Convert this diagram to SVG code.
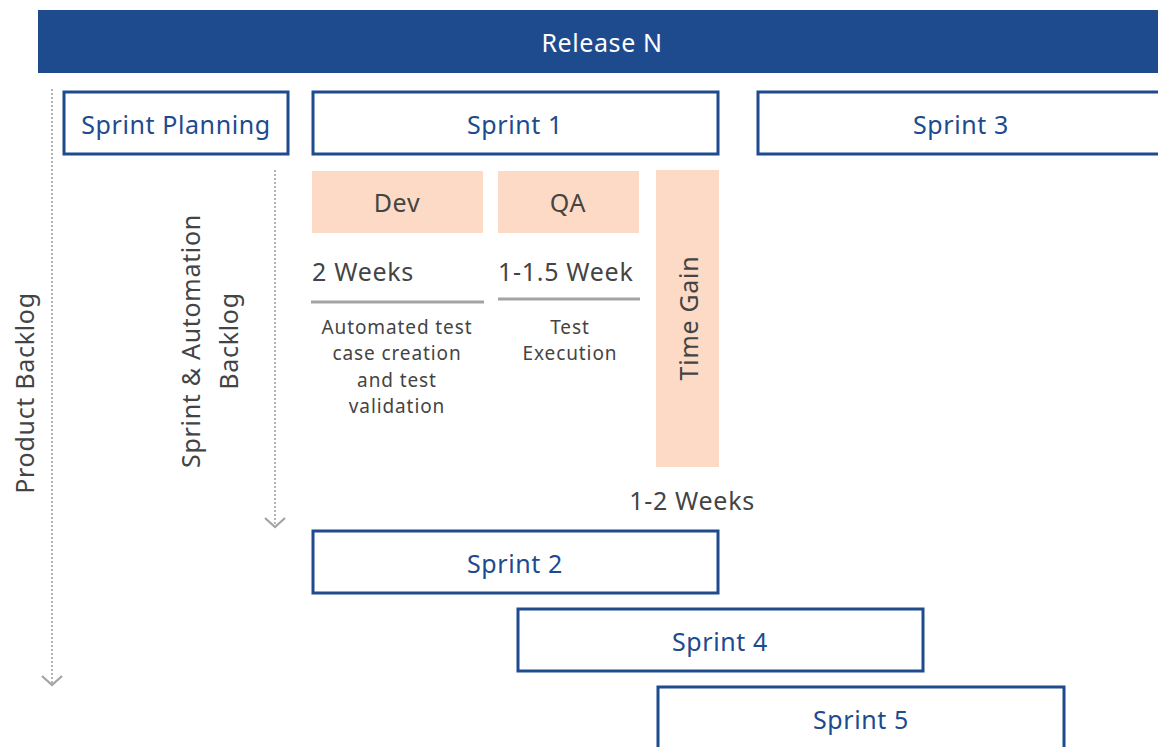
<svg xmlns="http://www.w3.org/2000/svg" width="1158" height="747" viewBox="0 0 1158 747">
<style>
.box{fill:#fff;stroke:#1e4a8e;stroke-width:3}
.peach{fill:#fddac5}
.blue{font-family:"Noto Sans","Liberation Sans",sans-serif;font-size:25px;letter-spacing:0.6px;fill:#1e4a8e;text-anchor:middle;dominant-baseline:central}
.gray{font-family:"Noto Sans","Liberation Sans",sans-serif;font-size:25px;letter-spacing:0.7px;fill:#444;dominant-baseline:central}
.small{font-family:"Noto Sans","Liberation Sans",sans-serif;font-size:19px;letter-spacing:0.9px;fill:#444;text-anchor:middle}
.dot{stroke:#a3a3a6;stroke-width:2.2;stroke-dasharray:0 4;stroke-linecap:round;fill:none}
.chev{fill:none;stroke:#a3a3a6;stroke-width:2.2}
.rule{stroke:#a3a3a6;stroke-width:3}
</style>
<g id="release">
<rect x="38" y="10" width="1120" height="63" fill="#1e4a8e"/>
<text x="602" y="42" class="blue" style="fill:#fff">Release N</text>
</g>
<g id="connectors">
<line class="dot" x1="52" y1="90" x2="52" y2="683"/>
<path class="chev" d="M42,676 L52,685 L62,676"/>
<line class="dot" x1="275" y1="171" x2="275" y2="525"/>
<path class="chev" d="M265,518 L275,527 L285,518"/>
</g>
<g id="product-backlog">
<text transform="translate(24,393) rotate(-90)" class="gray" style="text-anchor:middle">Product Backlog</text>
</g>
<g id="sprint-automation-backlog">
<text transform="translate(190,341) rotate(-90)" class="gray" style="text-anchor:middle">Sprint &amp; Automation</text>
<text transform="translate(228,341) rotate(-90)" class="gray" style="text-anchor:middle">Backlog</text>
</g>
<g id="sprint-planning">
<rect class="box" x="64" y="92" width="224" height="62"/>
<text x="176" y="124" class="blue">Sprint Planning</text>
</g>
<g id="sprint1">
<rect class="box" x="313" y="92" width="405" height="62"/>
<text x="515" y="124" class="blue">Sprint 1</text>
</g>
<g id="sprint3">
<rect class="box" x="758" y="92" width="410" height="62"/>
<text x="961" y="124" class="blue">Sprint 3</text>
</g>
<g id="dev">
<rect class="peach" x="312" y="171" width="171" height="62"/>
<text x="397" y="202" class="gray" style="text-anchor:middle">Dev</text>
<text x="312" y="271" class="gray">2 Weeks</text>
<line class="rule" x1="311" y1="302" x2="484" y2="302"/>
<text class="small"><tspan x="397" y="334">Automated test</tspan><tspan x="397" y="360">case creation</tspan><tspan x="397" y="387">and test</tspan><tspan x="397" y="413">validation</tspan></text>
</g>
<g id="qa">
<rect class="peach" x="498" y="171" width="141" height="62"/>
<text x="568" y="202" class="gray" style="text-anchor:middle">QA</text>
<text x="498" y="271" class="gray">1-1.5 Week</text>
<line class="rule" x1="498" y1="299" x2="640" y2="299"/>
<text class="small"><tspan x="570" y="334">Test</tspan><tspan x="570" y="360">Execution</tspan></text>
</g>
<g id="time-gain">
<rect class="peach" x="656" y="170" width="63" height="297"/>
<text transform="translate(688,318) rotate(-90)" class="gray" style="text-anchor:middle">Time Gain</text>
<text x="692" y="500" class="gray" style="text-anchor:middle">1-2 Weeks</text>
</g>
<g id="sprint2">
<rect class="box" x="313" y="531" width="405" height="62"/>
<text x="515" y="563" class="blue">Sprint 2</text>
</g>
<g id="sprint4">
<rect class="box" x="518" y="609" width="405" height="62"/>
<text x="720" y="641" class="blue">Sprint 4</text>
</g>
<g id="sprint5">
<rect class="box" x="658" y="687" width="406" height="70"/>
<text x="861" y="719" class="blue">Sprint 5</text>
</g>
</svg>
